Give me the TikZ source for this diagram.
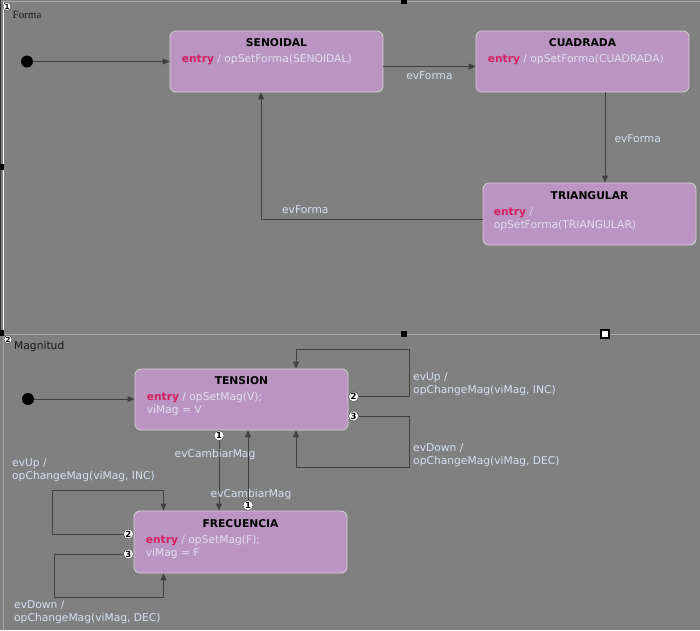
\documentclass[tikz,border=0pt]{standalone}
\usepackage{fontspec}
\setmainfont{DejaVu Sans}
\newfontfamily\formafont{Liberation Serif}
\usepackage{xcolor}
\usepackage{tikz}
\usetikzlibrary{arrows.meta, positioning, calc}
\definecolor{canvasgray}{RGB}{128,128,128}
\definecolor{statefill}{RGB}{186,149,193}
\definecolor{stateborder}{RGB}{212,212,212}
\definecolor{entrycolor}{RGB}{214,31,99}
\definecolor{bodytext}{RGB}{226,222,240}
\definecolor{labeltext}{RGB}{214,224,240}
\definecolor{wirecolor}{RGB}{64,64,64}
\definecolor{regionline}{RGB}{168,168,168}
\newcommand{\entrykw}{\textcolor{entrycolor}{\bfseries entry}}

\begin{document}
\begin{tikzpicture}[
    x=1pt, y=-1pt,
    state/.style={draw=stateborder, line width=0.8pt, fill=statefill, minimum width=213pt, minimum height=61pt, rounded corners=6pt, inner sep=0pt},
    statetitle/.style={font=\fontsize{10.7}{13}\selectfont\bfseries, text=black, inner sep=0pt},
    body/.style={font=\fontsize{10.7}{13}\selectfont, text=bodytext, align=left, anchor=north west, inner sep=0pt},
    evlabel/.style={font=\fontsize{10.7}{13}\selectfont, text=labeltext, align=left, inner sep=1pt},
    trans/.style={draw=wirecolor, line width=1pt, -{Triangle[length=7pt, width=6pt]}},
    init/.style={circle, fill=black, minimum size=12pt, inner sep=0pt},
    port/.style={circle, draw=wirecolor, line width=0.4pt, fill=white, minimum size=10pt, inner sep=0pt, font=\fontsize{8.5}{9}\selectfont\bfseries},
    handle/.style={draw=black, fill=black, minimum size=5pt, inner sep=0pt}
]
    \useasboundingbox (0,0) rectangle (700,630);

    % Regions
    \fill[canvasgray] (0,0) rectangle (700,630);
    \draw[regionline, line width=1pt] (0,1.5) -- (700,1.5);
    \draw[regionline, line width=1pt] (3,334) -- (700,334);
    \draw[regionline, line width=1pt] (3,334) -- (3,630);
    \draw[white, line width=1pt] (3,2) -- (3,333);
    \draw[black!80, line width=1pt] (0.5,0) -- (0.5,333);

    % Region labels
    \node[port, minimum size=8pt, font=\fontsize{7}{7}\selectfont\bfseries] (r1) at (7,6.5) {1};
    \node[anchor=west, font=\formafont\fontsize{11}{13}\selectfont, text=black!90, inner sep=0pt] (formaL) at (12.5,15) {Forma};
    \node[port, minimum size=8pt, font=\fontsize{7}{7}\selectfont\bfseries] (r2) at (8,339.5) {2};
    \node[anchor=west, font=\fontsize{10.7}{13}\selectfont, text=black!90, inner sep=0pt] (magL) at (14,347) {Magnitud};

    % States: Forma
    \node[state] (sen) at (276.5,61.5) {};
    \node[state] (cua) at (582.5,61.5) {};
    \node[state, minimum height=62pt] (tri) at (589.5,214) {};

    \node[statetitle, below=8pt of sen.north] (senT) {SENOIDAL};
    \node[statetitle, below=8pt of cua.north] (cuaT) {CUADRADA};
    \node[statetitle, below=8.5pt of tri.north] (triT) {TRIANGULAR};

    \node[body] (senB) at ([xshift=12pt, yshift=-24pt]sen.north west) {\entrykw{} / opSetForma(SENOIDAL)};
    \node[body] (cuaB) at ([xshift=12pt, yshift=-24pt]cua.north west) {\entrykw{} / opSetForma(CUADRADA)};
    \node[body] (triB) at ([xshift=11pt, yshift=-25pt]tri.north west) {\entrykw{} /\\opSetForma(TRIANGULAR)};

    % States: Magnitud
    \node[state] (ten) at (241.5,399.5) {};
    \node[state, minimum height=62pt] (fre) at (240.5,542) {};

    \node[statetitle, below=8pt of ten.north] (tenT) {TENSION};
    \node[statetitle, below=8.5pt of fre.north] (freT) {FRECUENCIA};

    \node[body] (tenB) at ([xshift=12pt, yshift=-24pt]ten.north west) {\entrykw{} / opSetMag(V);\\viMag = V};
    \node[body] (freB) at ([xshift=12pt, yshift=-25pt]fre.north west) {\entrykw{} / opSetMag(F);\\viMag = F};

    % Initial states
    \node[init] (init1) at (27,61.5) {};
    \node[init] (init2) at (28,399) {};

    % Ports
    \node[port, anchor=west] (t2) at ([yshift=2.8pt]ten.east) {2};
    \node[port, anchor=west] (t3) at ([yshift=-16.5pt]ten.east) {3};
    \node[port, anchor=north] (t1) at ([xshift=-22.5pt]ten.south) {1};
    \node[port, anchor=south] (f1) at ([xshift=7.5pt]fre.north) {1};
    \node[port, anchor=east] (f2) at ([yshift=8pt]fre.west) {2};
    \node[port, anchor=east] (f3) at ([yshift=-12pt]fre.west) {3};

    % Loop corners
    \coordinate (cuaOut) at ([xshift=22.5pt]cua.south);
    \coordinate (tenUp) at (409,349);
    \coordinate (tenDown) at (409,467);
    \coordinate (freUp) at (52,490.5);
    \coordinate (freDown) at (54,597);

    % Transitions: Forma
    \draw[trans] (init1) -- (init1 -| sen.west);
    \draw[trans] ([yshift=-5pt]sen.east) -- node[evlabel, below=4pt] (lblA) {evForma} ([yshift=-5pt]cua.west);
    \draw[trans] (cuaOut) -- node[evlabel, right=8pt, yshift=-1pt] (lblB) {evForma} (cuaOut |- tri.north);
    \draw[trans] ([yshift=-5pt]tri.west) -| node[evlabel, above=4pt, pos=0.4] (lblC) {evForma} ([xshift=-15.5pt]sen.south);

    % Transitions: Magnitud
    \draw[trans] (init2) -- (init2 -| ten.west);
    \draw[trans] (t2) -| (tenUp) -| ([xshift=54.5pt]ten.north);
    \draw[trans] (t3) -| (tenDown) -| ([xshift=54.5pt]ten.south);
    \draw[trans] (t1) -- node[evlabel, pos=0.2, xshift=-4pt] (lblD) {evCambiarMag} (t1 |- fre.north);
    \draw[trans] (f1) -- node[evlabel, pos=0.08, xshift=3pt] (lblE) {evCambiarMag} (f1 |- ten.south);
    \draw[trans] (f2) -| (freUp) -| ([xshift=-77pt]fre.north);
    \draw[trans] (f3) -| (freDown) -| ([xshift=-77pt]fre.south);

    % Self-loop labels
    \node[evlabel, anchor=west] (lblUp1) at (412,384) {evUp /\\opChangeMag(viMag, INC)};
    \node[evlabel, anchor=west] (lblDn1) at (412,455.5) {evDown /\\opChangeMag(viMag, DEC)};
    \node[evlabel, anchor=west] (lblUp2) at (11,470.5) {evUp /\\opChangeMag(viMag, INC)};
    \node[evlabel, anchor=west] (lblDn2) at (13,612.5) {evDown /\\opChangeMag(viMag, DEC)};

    % Selection handles
    \node[handle] (h1) at (404,0.5) {};
    \node[handle] (h2) at (1,167) {};
    \node[handle] (h3) at (1,333) {};
    \node[handle] (h4) at (404,333.5) {};
    \node[handle, fill=white, line width=1.2pt, minimum size=8pt] (h5) at (605,334) {};
\end{tikzpicture}
\end{document}
